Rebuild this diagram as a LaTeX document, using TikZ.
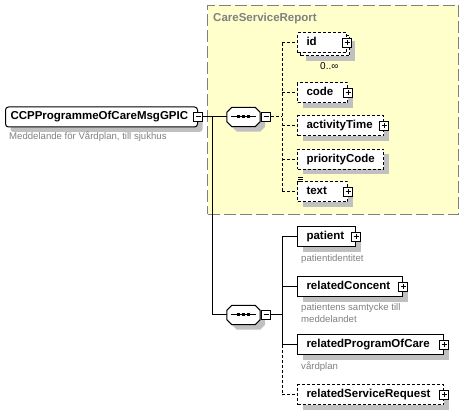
\documentclass[tikz,border=0pt]{standalone}
\usepackage{fontspec}
\setmainfont{Liberation Sans}
\usetikzlibrary{calc,shadows}
\definecolor{shadowgrey}{RGB}{192,192,192}
\definecolor{groupfill}{RGB}{255,255,204}
\definecolor{groupline}{RGB}{128,128,128}
\definecolor{desccol}{RGB}{128,128,128}
\tikzset{
  basebox/.style={draw=black, fill=white, line width=1pt, minimum height=20pt,
    inner xsep=9pt, inner ysep=0pt, anchor=west, text height=8.3pt, text depth=2.4pt,
    font=\fontsize{11.5}{13}\selectfont\bfseries, align=left},
  shadowed/.style={drop shadow={shadow xshift=5pt, shadow yshift=-5pt, fill=shadowgrey, opacity=1}},
  elem/.style={basebox, shadowed},
  optelem/.style={basebox, shadowed, dash pattern=on 3pt off 2pt},
  optfront/.style={basebox, dash pattern=on 3pt off 2pt},
  pm/.style={draw=black, fill=white, line width=1pt, minimum size=9pt, inner sep=0pt, anchor=center},
  plusbox/.style={pm, path picture={
      \draw[line width=1pt] ([xshift=2pt]path picture bounding box.west) -- ([xshift=-2pt]path picture bounding box.east);
      \draw[line width=1pt] ([yshift=-2pt]path picture bounding box.north) -- ([yshift=2pt]path picture bounding box.south);}},
  minusbox/.style={pm, path picture={
      \draw[line width=1pt] ([xshift=2pt]path picture bounding box.west) -- ([xshift=-2pt]path picture bounding box.east);}},
  seqbox/.style={minimum width=33pt, minimum height=19pt, inner sep=0pt},
  desc/.style={text=desccol, font=\fontsize{9.6}{12}\selectfont, inner sep=0pt, align=left},
  conn/.style={draw=black, line width=1pt},
  optconn/.style={draw=black, line width=1pt, dash pattern=on 3pt off 2pt},
  groupbox/.style={draw=groupline, fill=groupfill, line width=1pt, dash pattern=on 12pt off 4pt, inner sep=0pt},
}
\newcommand\seqdraw[1]{%
  \fill[shadowgrey] ($(#1.north west)+(10,5)$) -- ($(#1.north east)+(0,5)$) -- ($(#1.north east)+(5,10)$) -- ($(#1.south east)+(5,0)$) -- ($(#1.south east)+(0,5)$) -- ($(#1.south west)+(10,5)$) -- ($(#1.south west)+(5,0)$) -- ($(#1.north west)+(5,10)$) -- cycle;
  \draw[line width=1pt, fill=white] ($(#1.north west)+(5,0)$) -- ($(#1.north east)+(-5,0)$) -- ($(#1.north east)+(0,5)$) -- ($(#1.south east)+(0,-5)$) -- ($(#1.south east)+(-5,0)$) -- ($(#1.south west)+(5,0)$) -- ($(#1.south west)+(0,-5)$) -- ($(#1.north west)+(0,5)$) -- cycle;
  \draw[line width=1pt] ($(#1.west)+(4,0)$) -- ($(#1.east)+(-4,0)$);
  \foreach \d in {-5,0,5} \fill ($(#1.center)+(\d-1.5,-1.5)$) rectangle ++(3,3);
}
\begin{document}
\begin{tikzpicture}[x=1pt, y=-1pt]
\useasboundingbox (0,0) rectangle (464,411);
% group
\node[groupbox, minimum width=251pt, minimum height=209pt, anchor=north west] (grp) at (207,5) {};
\node[anchor=base west, inner sep=0pt, text=desccol, font=\fontsize{11.5}{13}\selectfont\bfseries] (grptitle) at (213,22) {CareServiceReport};
% root
\node[elem, rounded corners=3pt, inner xsep=5pt, text width=182pt] (root) at (5,117) {CCPProgrammeOfCareMsgGPIC};
\node[minusbox] (rootm) at (root.east) {};
\node[desc, anchor=base west] (rootdesc) at (9,140) {Meddelande för Vårdplan, till sjukhus};
% sequences
\node[seqbox] (seq1) at (243.5,117) {};
\seqdraw{seq1}
\node[minusbox] (seq1m) at (266,117) {};
\node[seqbox] (seq2) at (243.5,315) {};
\seqdraw{seq2}
\node[minusbox] (seq2m) at (266,315) {};
\coordinate (j) at (212,117);
\coordinate (bus1) at (282,117);
\coordinate (bus2) at (282,315);
% group children
\node[optelem, text width=31pt] (idback) at (300,46) {\phantom{id}};
\node[optfront, text width=31pt] (id) at (297,43) {id};
\node[plusbox] (idp) at (id.east) {};
\node[anchor=base west, inner sep=0pt, font=\fontsize{10}{12}\selectfont] (idmult) at (320,70) {0..∞};
\node[optelem, text width=32pt] (code) at (297,93) {code};
\node[plusbox] (codep) at (code.east) {};
\node[optelem, text width=68pt] (acttime) at (297,126) {activityTime};
\node[plusbox] (acttimep) at (acttime.east) {};
\node[optelem, text width=68pt] (prio) at (297,159.5) {priorityCode};
\node[optelem, text width=32pt] (text) at (297,192) {text};
\node[plusbox] (textp) at (text.east) {};
\draw[line width=0.7pt] (298,177) -- (303,177) (298,179) -- (303,179) (298,181) -- (303,181);
% second sequence children
\node[elem, text width=40pt] (patient) at (297,237) {patient};
\node[plusbox] (patientp) at (patient.east) {};
\node[desc, anchor=base west] (patientdesc) at (301,262) {patientidentitet};
\node[elem, text width=87pt] (concent) at (297,287) {relatedConcent};
\node[plusbox] (concentp) at (concent.east) {};
\node[desc, anchor=north west] (concentdesc) at (301,303) {patientens samtycke till\\meddelandet};
\node[elem, text width=128pt] (rpoc) at (297,345) {relatedProgramOfCare};
\node[plusbox] (rpocp) at (rpoc.east) {};
\node[desc, anchor=base west] (rpocdesc) at (301,370) {vårdplan};
\node[optelem, text width=128pt] (rsr) at (297,395) {relatedServiceRequest};
\node[plusbox] (rsrp) at (rsr.east) {};
% connectors
\draw[conn] (rootm.east) -- (seq1.west);
\draw[conn] (j) |- (seq2.west);
\draw[optconn] (seq1m.east) -- (bus1);
\draw[optconn] (bus1 |- id.west) -- (bus1 |- text.west);
\foreach \n in {id,code,acttime,prio,text} \draw[optconn] (bus1 |- \n.west) -- (\n.west);
\draw[conn] (seq2m.east) -- (bus2);
\draw[conn] (bus2 |- patient.west) -- (bus2 |- rpoc.west);
\draw[optconn] (bus2 |- rpoc.west) -- (bus2 |- rsr.west);
\foreach \n in {patient,concent,rpoc} \draw[conn] (bus2 |- \n.west) -- (\n.west);
\draw[optconn] (bus2 |- rsr.west) -- (rsr.west);
\end{tikzpicture}
\end{document}
